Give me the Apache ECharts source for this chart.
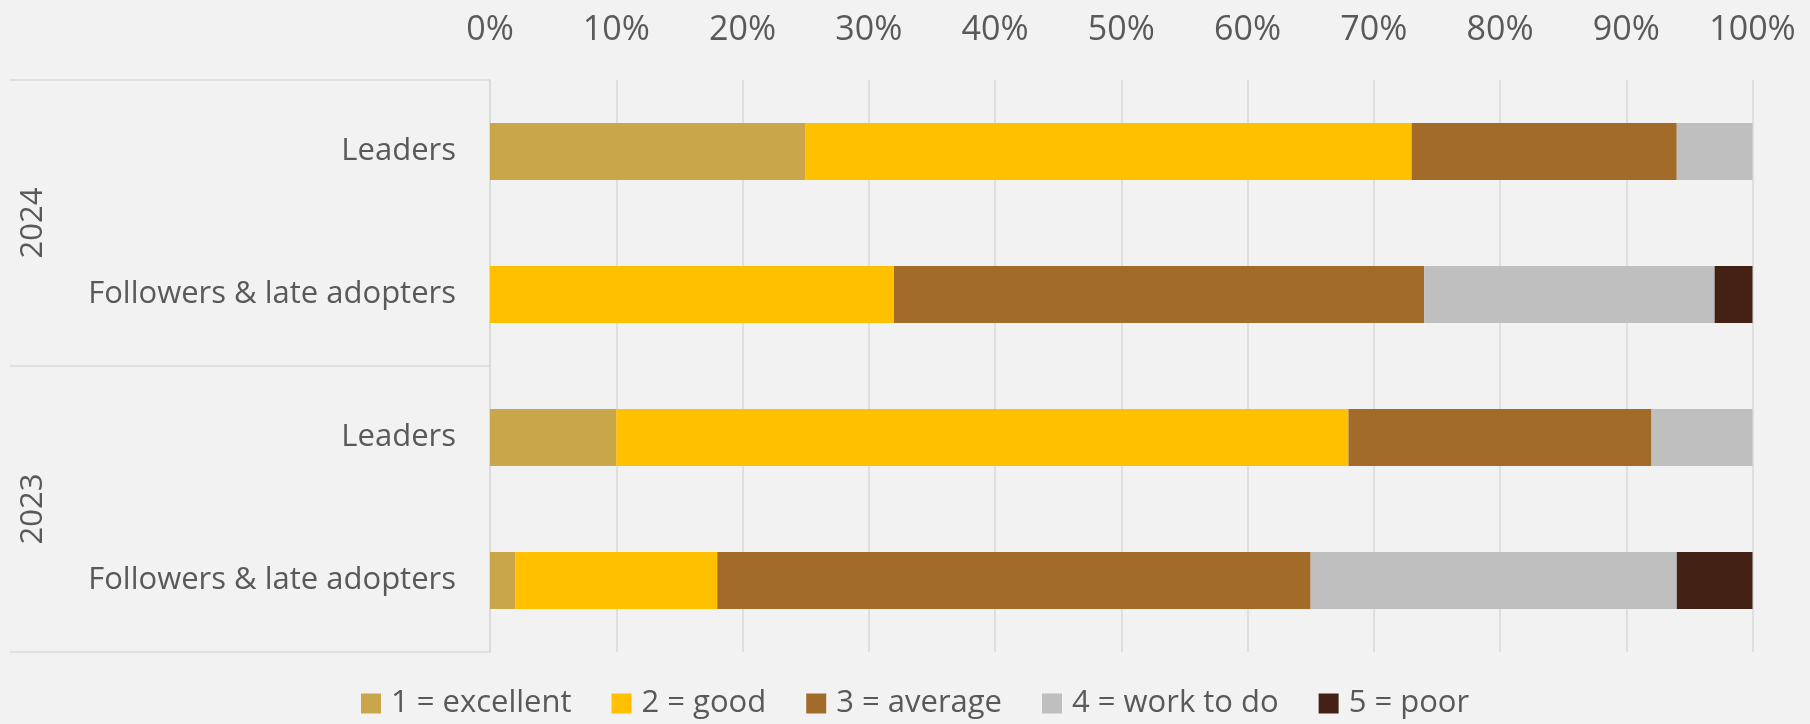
<!DOCTYPE html>
<html>
<head>
<meta charset="utf-8">
<script src="https://cdn.jsdelivr.net/npm/echarts@6/dist/echarts.min.js"></script>
<style>
html,body{margin:0;padding:0;background:#f2f2f2;}
#chart{width:1810px;height:724px;}
</style>
</head>
<body>
<div id="chart"></div>
<script>
const categories = ["Leaders", "Followers & late adopters", "Leaders", "Followers & late adopters"];
const years = ["2024", "2023"];
const seriesNames = ["1 = excellent", "2 = good", "3 = average", "4 = work to do", "5 = poor"];
const excellent = [25, 0, 10, 2];
const good = [48, 32, 58, 16];
const average = [21, 42, 24, 47];
const workToDo = [6, 23, 8, 29];
const poor = [0, 3, 0, 6];
const xTicks = [0, 10, 20, 30, 40, 50, 60, 70, 80, 90, 100];

const colors = ["#c9a64a", "#ffc000", "#a36b29", "#bfbfbf", "#432215"];
const seriesData = [excellent, good, average, workToDo, poor];
const FONT = "'Open Sans', sans-serif";
const TXT = "#595959";
const LINE = "#d9d9d9";

const chart = echarts.init(document.getElementById('chart'));
chart.setOption({
  animation: false,
  backgroundColor: "#f2f2f2",
  color: colors,
  textStyle: { fontFamily: FONT, color: TXT },
  grid: { left: 490, right: 57.5, top: 80, bottom: 72, containLabel: false },
  legend: {
    data: seriesNames,
    bottom: 5,
    left: 361,
    padding: 0,
    itemWidth: 20,
    itemHeight: 20,
    itemGap: 40,
    icon: 'rect',
    textStyle: { fontSize: 31, color: TXT, fontFamily: FONT, lineHeight: 30, padding: [0, 0, 0, 5] }
  },
  xAxis: {
    type: 'value',
    position: 'top',
    min: xTicks[0],
    max: xTicks[xTicks.length - 1],
    interval: 10,
    axisLine: { show: false },
    axisTick: { show: false },
    splitLine: { show: true, lineStyle: { color: LINE, width: 1.5 } },
    axisLabel: { formatter: '{value}%', fontSize: 34, color: TXT, fontFamily: FONT, margin: 30, lineHeight: 40 }
  },
  yAxis: [
    {
      type: 'category',
      data: categories,
      inverse: true,
      axisLine: { show: true, lineStyle: { color: LINE, width: 1.5 } },
      axisTick: { show: false },
      axisLabel: { fontSize: 31, color: TXT, fontFamily: FONT, margin: 34 }
    },
    {
      type: 'category',
      data: years,
      inverse: true,
      position: 'left',
      offset: 0,
      axisLine: { show: false },
      axisTick: { show: true, length: 480, lineStyle: { color: LINE, width: 1.5 } },
      axisLabel: { rotate: 90, fontSize: 31, color: TXT, fontFamily: FONT, margin: 442, lineHeight: 30 }
    }
  ],
  series: seriesNames.map((name, i) => ({
    name: name,
    type: 'bar',
    stack: 'total',
    yAxisIndex: 0,
    barCategoryGap: '60%',
    data: seriesData[i],
    itemStyle: { color: colors[i] }
  }))
});
</script>
</body>
</html>
